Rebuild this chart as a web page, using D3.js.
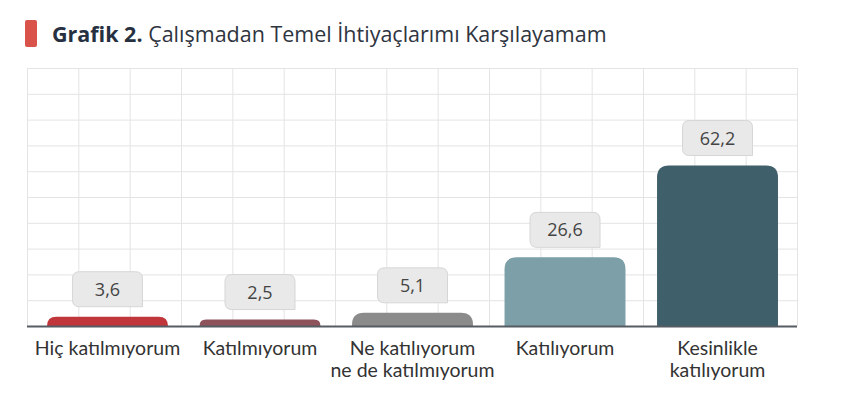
<!DOCTYPE html>
<html>
<head>
<meta charset="utf-8">
<script src="https://cdn.jsdelivr.net/npm/d3@7"></script>
<style>
  body { margin: 0; background: #fff; }
  svg { display: block; font-family: "Open Sans", sans-serif; }
</style>
</head>
<body>
<svg id="chart" width="850" height="418"></svg>
<script>
// data
var categories = ['Hiç katılmıyorum', 'Katılmıyorum', 'Ne katılıyorum\nne de katılmıyorum', 'Katılıyorum', 'Kesinlikle\nkatılıyorum']
var values = [3.6, 2.5, 5.1, 26.6, 62.2]
var valueLabels = ['3,6', '2,5', '5,1', '26,6', '62,2']
var barColors = ['#c0363a', '#8e525b', '#8b8b8b', '#7c9fa8', '#3f5f6b']
var yTicks = d3.range(0, 101, 10)

var svg = d3.select('#chart')
  , plotLeft = 27
  , plotRight = 797
  , plotTop = 68
  , plotBottom = 326

var x = d3.scaleBand().domain(categories).range([31, 794]).paddingInner(0.207).paddingOuter(0.105)
var y = d3.scaleLinear().domain([0, 100]).range([plotBottom, plotTop])
var gx = d3.scaleLinear().domain([0, 15]).range([plotLeft, plotRight])

// title
svg.append('rect').attr('x', 25).attr('y', 20).attr('width', 12).attr('height', 27).attr('rx', 2).attr('fill', '#d9534a')
var title = svg.append('text').attr('x', 52).attr('y', 42).attr('font-size', 21.5).attr('fill', '#2e3440')
title.append('tspan').attr('font-weight', 700).attr('fill', '#263040').text('Grafik 2.')
title.append('tspan').text(' Çalışmadan Temel İhtiyaçlarımı Karşılayamam')

// grid
var grid = svg.append('g').attr('stroke', '#e4e4e4').attr('stroke-width', 1)
grid.selectAll('.h').data(yTicks).enter().append('line')
  .attr('x1', plotLeft).attr('x2', plotRight)
  .attr('y1', function (d) { return y(d) + 0.5 }).attr('y2', function (d) { return y(d) + 0.5 })
grid.selectAll('.v').data(d3.range(0, 16)).enter().append('line')
  .attr('y1', plotTop).attr('y2', plotBottom)
  .attr('x1', function (d) { return gx(d) + 0.5 }).attr('x2', function (d) { return gx(d) + 0.5 })

// bars with rounded top
function barPath (x0, w, y0, h) {
  var r = Math.min(12, h, w / 2)
  return 'M' + x0 + ',' + (y0 + h) +
    'V' + (y0 + r) +
    'Q' + x0 + ',' + y0 + ' ' + (x0 + r) + ',' + y0 +
    'H' + (x0 + w - r) +
    'Q' + (x0 + w) + ',' + y0 + ' ' + (x0 + w) + ',' + (y0 + r) +
    'V' + (y0 + h) + 'Z'
}

svg.append('g').selectAll('path').data(values).enter().append('path')
  .attr('d', function (d, i) {
    return barPath(x(categories[i]), x.bandwidth(), y(d), plotBottom - y(d))
  })
  .attr('fill', function (d, i) { return barColors[i] })

// baseline
svg.append('line').attr('x1', plotLeft).attr('x2', plotRight).attr('y1', plotBottom + 0.5).attr('y2', plotBottom + 0.5)
  .attr('stroke', '#555c63').attr('stroke-width', 2)

// value boxes
function boxPath (cx, yb, w, h) {
  var x0 = cx - w / 2, y0 = yb - h, r = 7
  return 'M' + (x0 + r) + ',' + y0 +
    'H' + (x0 + w - r) +
    'Q' + (x0 + w) + ',' + y0 + ' ' + (x0 + w) + ',' + (y0 + r) +
    'V' + yb +
    'H' + (x0 + r) +
    'Q' + x0 + ',' + yb + ' ' + x0 + ',' + (yb - r) +
    'V' + (y0 + r) +
    'Q' + x0 + ',' + y0 + ' ' + (x0 + r) + ',' + y0 + 'Z'
}

var boxes = svg.append('g').selectAll('g').data(values).enter().append('g')
boxes.append('path')
  .attr('d', function (d, i) {
    return boxPath(x(categories[i]) + x.bandwidth() / 2, y(d) - 10, 70, 35)
  })
  .attr('fill', '#e9e9e9').attr('stroke', '#d6d6d6')
boxes.append('text')
  .attr('x', function (d, i) { return x(categories[i]) + x.bandwidth() / 2 })
  .attr('y', function (d) { return y(d) - 21 })
  .attr('text-anchor', 'middle').attr('font-size', 18).attr('fill', '#444')
  .text(function (d, i) { return valueLabels[i] })

// category labels
svg.append('g').selectAll('text').data(categories).enter().append('text')
  .attr('text-anchor', 'middle').attr('font-size', 19.5).attr('fill', '#333')
  .attr('font-family', 'Lato, sans-serif')
  .attr('transform', function (d) { return 'translate(' + (x(d) + x.bandwidth() / 2) + ',355)' })
  .each(function (d) {
    var arr = d.split('\n')
    for (let i = 0; i < arr.length; i++) {
      d3.select(this).append('tspan').attr('x', 0).attr('dy', i ? 22 : 0).text(arr[i])
    }
  })
</script>
</body>
</html>
